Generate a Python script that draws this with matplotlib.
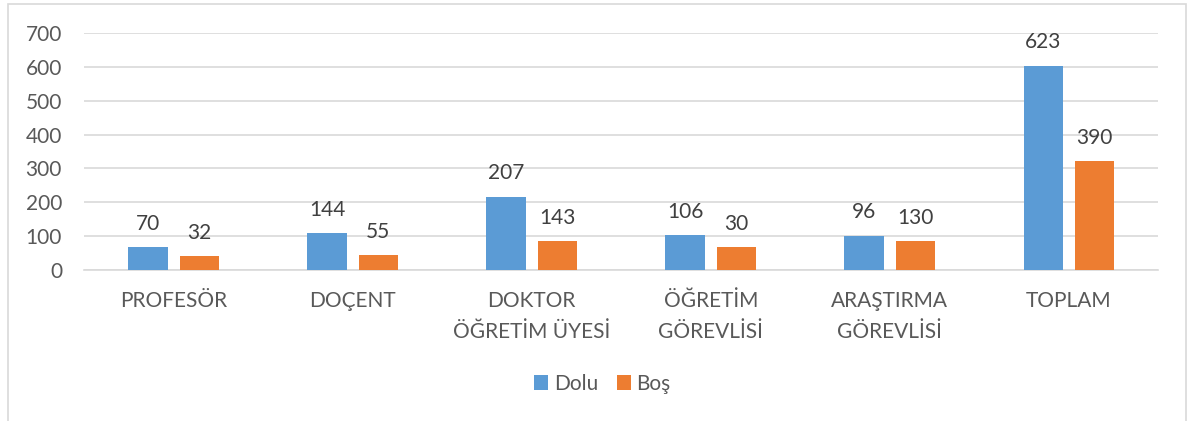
import matplotlib
matplotlib.use("Agg")
import matplotlib.pyplot as plt
import numpy as np
from matplotlib.patches import Rectangle

categories = ["PROFESÖR", "DOÇENT", "DOKTOR\nÖĞRETİM ÜYESİ", "ÖĞRETİM\nGÖREVLİSİ",
              "ARAŞTIRMA\nGÖREVLİSİ", "TOPLAM"]
series_names = ["Dolu", "Boş"]
# bar heights as drawn in the picture
dolu_heights = [68, 109, 217, 103, 101, 603]
bos_heights = [40, 43, 85, 67, 85, 322]
# data labels as printed in the picture
dolu_labels = ["70", "144", "207", "106", "96", "623"]
bos_labels = ["32", "55", "143", "30", "130", "390"]
yticks = [0, 100, 200, 300, 400, 500, 600, 700]

BLUE = "#5B9BD5"
ORANGE = "#ED7D31"
TXT = "#595959"
GRID = "#D9D9D9"

plt.rcParams['font.family'] = ['Lato', 'DejaVu Sans']

fig = plt.figure(figsize=(11.88, 4.21), dpi=100)
ax = fig.add_axes([0.0709, 0.3587, 0.975 - 0.0709, 0.9216 - 0.3587])

x = np.arange(len(categories))
w = 0.22
off = 0.143
b1 = ax.bar(x - off, dolu_heights, w, color=BLUE, label=series_names[0], zorder=3)
b2 = ax.bar(x + off, bos_heights, w, color=ORANGE, label=series_names[1], zorder=3)

for bars, labs in ((b1, dolu_labels), (b2, bos_labels)):
    for r, t in zip(bars, labs):
        ax.annotate(t, (r.get_x() + r.get_width() / 2, r.get_height()),
                    xytext=(0, 12.5), textcoords="offset points",
                    ha="center", va="baseline", fontsize=15, color="#404040")

ax.set_xlim(-0.5, len(categories) - 0.5)
ax.set_ylim(0, 700)
ax.set_yticks(yticks)
ax.set_yticklabels([str(v) for v in yticks])
ax.set_xticks(x)
ax.set_xticklabels(categories, linespacing=1.72)
ax.tick_params(axis="y", length=0, pad=16, labelsize=15, labelcolor=TXT)
ax.tick_params(axis="x", length=0, pad=15, labelsize=15, labelcolor=TXT)
ax.yaxis.grid(True, color=GRID, linewidth=1.2, zorder=0)
ax.set_axisbelow(True)
for s in ["top", "right", "left"]:
    ax.spines[s].set_visible(False)
ax.spines["bottom"].set_color(GRID)
ax.spines["bottom"].set_linewidth(1.2)

leg = fig.legend(handles=[b1, b2], labels=series_names, loc="center",
                 bbox_to_anchor=(0.507, 1 - 384 / 421), ncol=2, frameon=False,
                 fontsize=15, handlelength=0.7, handleheight=0.7,
                 handletextpad=0.25, columnspacing=0.9)
for t in leg.get_texts():
    t.set_color(TXT)

# outer chart border
fig.patches.append(Rectangle((8 / 1188, -0.05), (1186 - 8) / 1188, 1.05 - 4 / 421,
                             transform=fig.transFigure, fill=False,
                             edgecolor="#D9D9D9", linewidth=1.2))

fig.savefig("out.png", dpi=100)
